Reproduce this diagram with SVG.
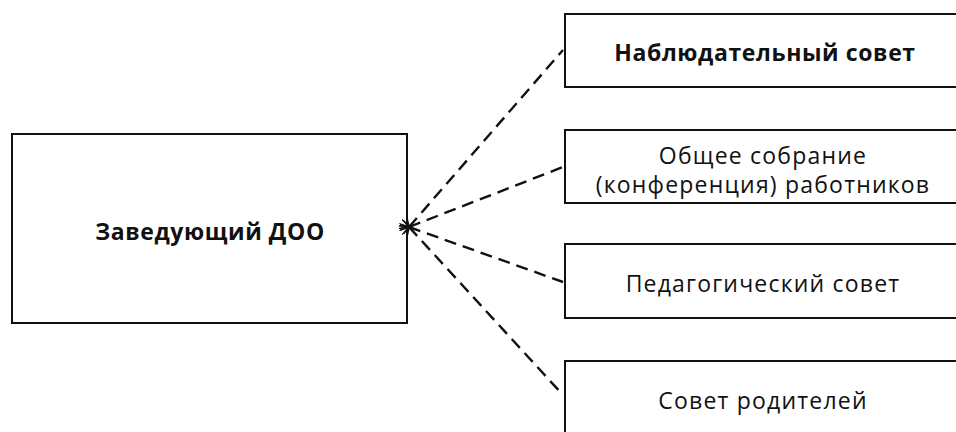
<svg xmlns="http://www.w3.org/2000/svg" width="956" height="432" viewBox="0 0 956 432">
<defs>
<style>
.box{fill:#fff;stroke:#111;stroke-width:2}
.t{font-family:"Open Sans","DejaVu Sans",sans-serif;font-size:23px;letter-spacing:1.2px;fill:#111;text-anchor:middle}
.b{font-weight:bold;letter-spacing:0.6px}
.c{fill:none;stroke:#111;stroke-width:2.4;stroke-dasharray:12 7}
</style>
<marker id="arr" viewBox="0 0 10 10" refX="1" refY="5" markerWidth="10" markerHeight="10" markerUnits="userSpaceOnUse" orient="auto-start-reverse">
<path d="M10,0 L1,5 L10,10" fill="none" stroke="#111" stroke-width="1.8"/>
</marker>
</defs>
<rect width="956" height="432" fill="#fff"/>
<g id="head">
<rect class="box" x="12" y="134" width="395" height="189"/>
<text class="t b" x="210" y="240">Заведующий ДОО</text>
</g>
<g id="n1">
<rect class="box" x="565" y="14" width="400" height="73"/>
<text class="t b" x="765" y="61">Наблюдательный совет</text>
</g>
<g id="n2">
<rect class="box" x="565" y="130" width="400" height="73"/>
<text class="t" x="763" y="164">Общее собрание</text>
<text class="t" x="763" y="193">(конференция) работников</text>
</g>
<g id="n3">
<rect class="box" x="565" y="244" width="400" height="74"/>
<text class="t" x="763" y="292">Педагогический совет</text>
</g>
<g id="n4">
<rect class="box" x="565" y="361" width="400" height="80"/>
<text class="t" x="763" y="409">Совет родителей</text>
</g>
<g id="connectors">
<path class="c" marker-start="url(#arr)" d="M409,227 L563,50"/>
<path class="c" marker-start="url(#arr)" d="M409,227 L563,167"/>
<path class="c" marker-start="url(#arr)" d="M409,227 L563,282"/>
<path class="c" marker-start="url(#arr)" d="M409,227 L563,395"/>
</g>
</svg>
